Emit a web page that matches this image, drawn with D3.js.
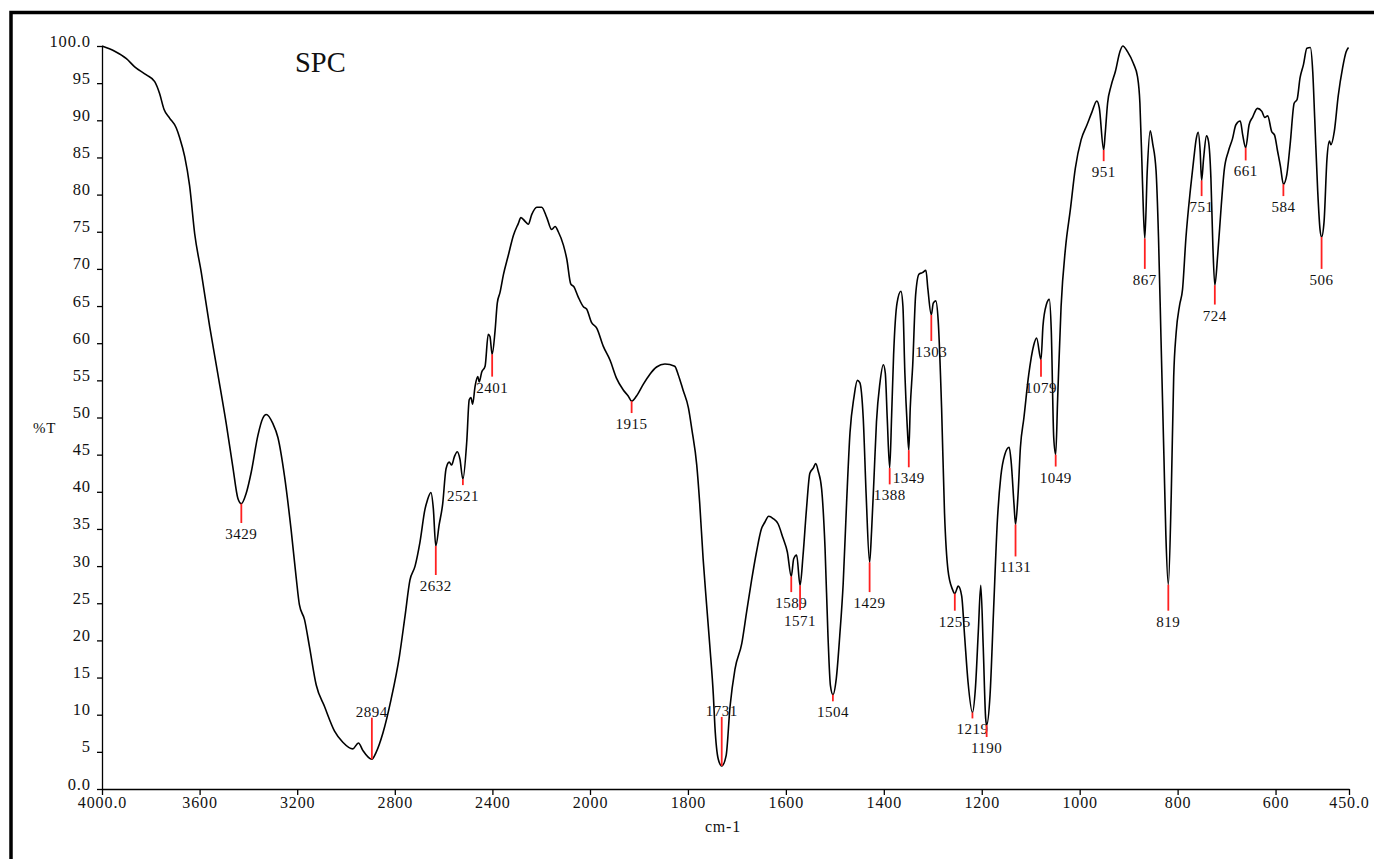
<!DOCTYPE html>
<html>
<head>
<meta charset="utf-8">
<script src="https://cdn.jsdelivr.net/npm/d3@7"></script>
<style>
  body { margin: 0; background: #fff; }
  svg { display: block; }
  text { font-family: "Liberation Serif", "Times New Roman", serif; fill: #111; }
  .axis path, .axis line { stroke: #000; stroke-width: 1.3; }
</style>
</head>
<body>
<svg id="ir" width="1374" height="859"></svg>
<script>
'use strict';
// spectrum trace: [wavenumber cm-1, %T]
var trace4000to2000 = [[4000,100.0],[3948,99.3],[3900,98.3],[3866,97.2],[3818,96.1],[3784,95.2],[3764,93.6],[3746,91.5],[3723,90.3],[3696,89.0],[3682,87.7],[3661,85.1],[3641,81.2],[3620,74.7],[3593,69.5],[3559,62.3],[3525,55.8],[3491,49.2],[3464,43.4],[3443,39.1],[3429,38.4],[3409,39.8],[3388,42.7],[3361,47.6],[3341,49.9],[3327,50.4],[3300,49.2],[3279,47.3],[3252,42.1],[3225,34.9],[3204,28.4],[3191,24.8],[3170,22.8],[3150,19.2],[3122,14.0],[3088,11.1],[3047,7.8],[3013,6.3],[2972,5.4],[2949,6.2],[2931,5.2],[2894,4.0],[2877,4.9],[2849,7.5],[2815,12.1],[2781,17.9],[2758,23.3],[2738,28.1],[2717,30.0],[2697,33.2],[2676,37.7],[2667,38.8],[2652,39.9],[2642,37.7],[2632,32.7],[2618,35.6],[2604,38.3],[2590,43.1],[2577,44.0],[2567,43.6],[2556,44.7],[2544,45.4],[2533,44.4],[2521,41.7],[2505,46.8],[2495,52.4],[2488,52.7],[2481,51.8],[2471,54.2],[2460,55.5],[2454,54.8],[2444,56.1],[2430,56.9],[2417,61.2],[2410,60.9],[2401,58.5],[2389,61.7],[2380,65.4],[2369,66.8],[2355,69.2],[2335,71.8],[2314,74.5],[2294,76.1],[2283,76.9],[2266,76.4],[2253,76.0],[2239,77.3],[2218,78.3],[2198,78.3],[2177,76.9],[2157,75.3],[2143,75.7],[2130,75.0],[2109,73.2],[2095,71.3],[2079,68.0],[2066,67.6],[2048,66.2],[2027,64.9],[2014,64.6]];
var trace2000to1200 = [[1997,62.8],[1986,62.0],[1973,59.6],[1959,57.7],[1946,55.3],[1932,53.7],[1922,52.9],[1915,52.2],[1905,52.9],[1891,54.5],[1878,55.8],[1864,56.8],[1847,57.2],[1827,56.9],[1820,55.8],[1810,53.7],[1799,51.3],[1792,48.4],[1782,43.6],[1776,38.5],[1769,31.0],[1762,24.9],[1755,19.0],[1748,12.5],[1745,8.5],[1738,4.0],[1731,3.1],[1722,4.5],[1714,11.1],[1704,16.1],[1690,19.6],[1680,23.9],[1670,28.1],[1660,31.9],[1650,35.0],[1643,35.9],[1635,36.7],[1626,36.4],[1616,35.7],[1606,33.8],[1597,31.9],[1589,28.6],[1584,31.0],[1578,31.5],[1571,27.4],[1565,31.4],[1558,37.6],[1551,42.5],[1544,43.2],[1539,43.8],[1534,42.8],[1527,40.4],[1520,32.4],[1514,20.6],[1509,13.9],[1504,12.7],[1497,14.9],[1490,20.6],[1483,27.6],[1476,38.5],[1469,48.0],[1461,52.7],[1454,55.0],[1449,54.7],[1442,49.9],[1436,39.5],[1429,30.5],[1425,34.7],[1420,41.9],[1415,49.4],[1408,54.6],[1401,57.1],[1397,56.0],[1393,49.9],[1388,43.2],[1384,50.3],[1380,58.4],[1373,65.4],[1365,67.0],[1361,65.0],[1357,56.0],[1352,48.6],[1349,45.6],[1346,51.3],[1341,57.0],[1335,66.5],[1328,69.3],[1321,69.5],[1314,69.8],[1310,67.3],[1303,63.8],[1299,65.4],[1294,65.7],[1289,63.1],[1282,51.3],[1276,37.1],[1269,29.5],[1260,26.9],[1255,26.3],[1248,27.3],[1241,26.0],[1235,20.6],[1228,14.4],[1219,10.3],[1213,13.5],[1207,21.2],[1202,27.4]];
var trace1200to450 = [[1197,19.2],[1192,9.5],[1190,8.6],[1183,12.7],[1176,23.8],[1168,36.2],[1161,42.1],[1153,45.0],[1144,46.0],[1140,44.1],[1134,38.2],[1131,35.6],[1126,39.5],[1121,46.0],[1114,49.9],[1104,55.8],[1094,59.7],[1088,60.7],[1079,57.8],[1075,62.3],[1068,65.2],[1062,65.9],[1058,61.7],[1053,47.3],[1049,45.0],[1045,52.5],[1038,64.9],[1029,72.8],[1019,78.0],[1009,83.5],[997,87.4],[985,89.4],[975,91.1],[965,92.6],[960,91.7],[951,86.0],[948,88.1],[943,92.3],[936,94.6],[927,96.6],[918,99.2],[912,100.0],[902,99.2],[890,97.6],[882,95.9],[877,92.3],[873,84.5],[870,78.0],[867,74.1],[862,83.2],[856,88.6],[851,86.9],[844,83.2],[839,74.2],[834,60.8],[828,44.9],[824,34.2],[819,27.5],[813,39.6],[808,55.5],[803,61.4],[796,65.1],[790,67.2],[783,74.2],[774,80.6],[767,84.8],[762,87.5],[758,88.4],[754,85.9],[751,81.9],[747,84.8],[741,87.9],[737,87.2],[732,82.2],[728,73.1],[724,67.8],[718,72.0],[711,78.4],[705,83.2],[696,85.9],[688,87.5],[681,89.4],[672,89.9],[667,88.0],[661,86.3],[654,89.4],[647,90.4],[637,91.6],[628,91.2],[622,90.4],[616,90.6],[608,88.5],[602,88.0],[596,85.9],[590,83.8],[584,81.4],[577,82.7],[570,86.9],[562,92.3],[556,92.8],[550,95.7],[543,97.5],[536,99.7],[529,99.8],[524,96.5],[520,90.2],[514,80.6],[509,75.2],[506,74.3],[501,76.3],[495,84.8],[490,87.2],[487,86.7],[480,88.5],[472,93.3],[463,97.1],[456,99.2],[451,99.8]];

// labelled peaks: position, %T at the minimum, %T where the red marker ends
var peakWn   = [3429, 2894, 2632, 2521, 2401, 1915, 1731, 1589, 1571, 1504, 1429, 1388, 1349, 1303, 1255, 1219, 1190, 1131, 1079, 1049, 951, 867, 819, 751, 724, 661, 584, 506];
var peakT    = [38.4, 4.0, 32.7, 41.7, 58.5, 52.2, 3.1, 28.6, 27.4, 12.7, 30.5, 43.2, 45.6, 63.8, 26.3, 10.3, 8.6, 35.6, 57.8, 45.0, 86.0, 74.1, 27.5, 81.9, 67.8, 86.3, 81.4, 74.3];
var peakMark = [35.8, 9.6, 28.8, 40.9, 55.5, 50.6, 9.7, 26.5, 24.1, 11.8, 26.5, 41.0, 43.3, 60.3, 24.0, 9.5, 7.0, 31.3, 55.5, 43.4, 84.5, 70.0, 24.0, 79.8, 65.2, 84.6, 79.8, 70.0];

var xTicks = [4000, 3600, 3200, 2800, 2400, 2000, 1800, 1600, 1400, 1200, 1000, 800, 600, 450];
var yTicks = [0, 5, 10, 15, 20, 25, 30, 35, 40, 45, 50, 55, 60, 65, 70, 75, 80, 85, 90, 95, 100];

var svg = d3.select('#ir');

// frame (only top and left edges show inside the window)
svg.append('rect')
    .attr('x', 11).attr('y', 12.5)
    .attr('width', 1500).attr('height', 1000)
    .attr('fill', 'none').attr('stroke', '#000').attr('stroke-width', 3.5);

// x scale switches resolution at 2000 cm-1
var x = d3.scaleLinear().domain([4000, 2000, 450]).range([102, 590, 1349]),
    y = d3.scaleLinear().domain([0, 100]).range([789, 46]);

var fmt = function(ends) {
    return function(d) { return ends.indexOf(d) >= 0 ? d.toFixed(1) : String(d); };
};

svg.append('g')
    .attr('class', 'axis')
    .attr('transform', 'translate(0,' + y(0) + ')')
    .call(d3.axisBottom(x).tickValues(xTicks).tickFormat(fmt([4000, 450])).tickSize(6).tickSizeOuter(0).tickPadding(2))
    .selectAll('text')
    .attr('font-size', 16).attr('letter-spacing', 0.9)
    .attr('font-family', '"Liberation Serif", serif').attr('fill', '#111');

// y labels sit with their baseline on the tick, as in the original
svg.append('g')
    .attr('class', 'axis')
    .attr('transform', 'translate(' + x(4000) + ',0)')
    .call(d3.axisLeft(y).tickValues(yTicks).tickFormat(fmt([0, 100])).tickSize(5).tickSizeOuter(0).tickPadding(6))
    .selectAll('text')
    .attr('dy', 0).attr('y', 0)
    .attr('font-size', 16.5).attr('letter-spacing', 0.9)
    .attr('font-family', '"Liberation Serif", serif').attr('fill', '#111');

// titles
svg.append('text').attr('x', 295).attr('y', 72).attr('font-size', 28.5).text('SPC');
svg.append('text').attr('x', 33).attr('y', 433).attr('font-size', 15).attr('letter-spacing', 0.8).text('%T');
svg.append('text').attr('x', 723).attr('y', 832).attr('text-anchor', 'middle').attr('font-size', 16).attr('letter-spacing', 0.8).text('cm-1');

// spectrum
var spectrum = trace4000to2000.concat(trace2000to1200, trace1200to450);
var line = d3.line()
    .x(function(d) { return x(d[0]); })
    .y(function(d) { return y(d[1]); })
    .curve(d3.curveMonotoneX);

svg.append('path')
    .datum(spectrum)
    .attr('d', line)
    .attr('fill', 'none')
    .attr('stroke', '#000')
    .attr('stroke-width', 1.6)
    .attr('stroke-linejoin', 'round');

// peak markers + labels
var peaks = peakWn.map(function(wn, i) { return {wn: wn, t: peakT[i], mark: peakMark[i]}; });

var pk = svg.append('g').selectAll('g').data(peaks).enter().append('g');

pk.append('line')
    .attr('x1', function(d) { return x(d.wn); })
    .attr('x2', function(d) { return x(d.wn); })
    .attr('y1', function(d) { return y(d.t); })
    .attr('y2', function(d) { return y(d.mark); })
    .attr('stroke', '#ff2020')
    .attr('stroke-width', 1.8);

pk.append('text')
    .attr('x', function(d) { return x(d.wn); })
    .attr('y', function(d) {
        // deep bands near the baseline get their label above the marker
        return d.mark > d.t ? y(d.mark) - 1 : y(d.mark) + 16;
    })
    .attr('text-anchor', 'middle')
    .attr('font-size', 15)
    .attr('letter-spacing', 0.5)
    .text(function(d) { return d.wn; });
</script>
</body>
</html>
